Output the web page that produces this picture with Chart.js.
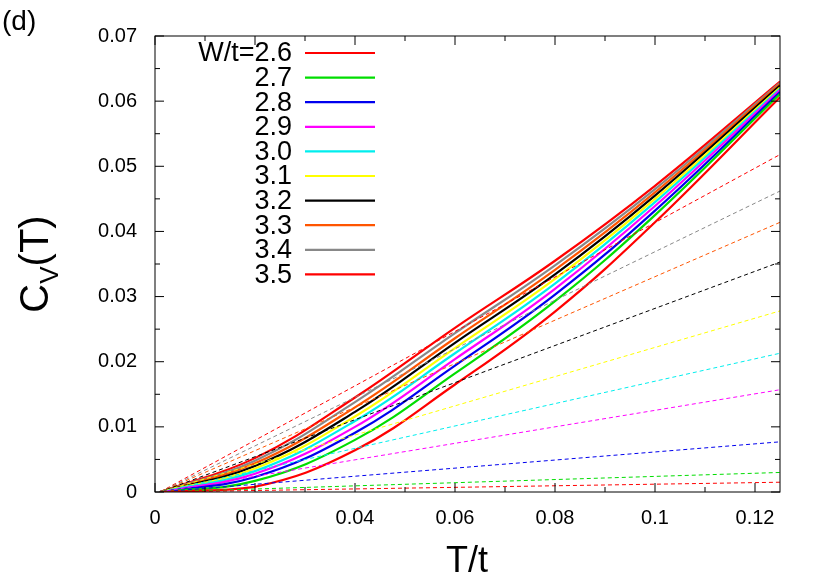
<!DOCTYPE html>
<html><head><meta charset="utf-8">
<script src="https://cdn.jsdelivr.net/npm/chart.js@4"></script>
<style>html,body{margin:0;padding:0;background:#fff}#w{width:830px;height:581px}</style>
</head><body><div id="w"><canvas id="c"></canvas></div>
<script>
const xs = [0.001, 0.02, 0.04, 0.06, 0.08, 0.10, 0.125];
const labels = ["W/t=2.6","2.7","2.8","2.9","3.0","3.1","3.2","3.3","3.4","3.5"];
const colors = ["#ff0000","#00dd00","#0000ee","#ff00ff","#00eeee","#ffff00","#000000","#ff5500","#888888","#ff0000"];
const curveW26 = [0, 0.0008, 0.0064, 0.0165, 0.0277, 0.0414, 0.0606];
const curveW27 = [0, 0.0017, 0.0080, 0.0182, 0.0293, 0.0425, 0.0611];
const curveW28 = [0, 0.0023, 0.0091, 0.0194, 0.0303, 0.0432, 0.0614];
const curveW29 = [0, 0.0028, 0.0100, 0.0204, 0.0312, 0.0439, 0.0617];
const curveW30 = [0, 0.0032, 0.0109, 0.0213, 0.0320, 0.0445, 0.0619];
const curveW31 = [0, 0.0036, 0.0116, 0.0221, 0.0327, 0.0450, 0.0621];
const curveW32 = [0, 0.0040, 0.0123, 0.0229, 0.0334, 0.0455, 0.0624];
const curveW33 = [0, 0.0044, 0.0130, 0.0236, 0.0341, 0.0460, 0.0626];
const curveW34 = [0, 0.0048, 0.0138, 0.0244, 0.0348, 0.0465, 0.0628];
const curveW35 = [0, 0.0052, 0.0145, 0.0252, 0.0355, 0.0470, 0.0630];
const curves = [curveW26,curveW27,curveW28,curveW29,curveW30,curveW31,curveW32,curveW33,curveW34,curveW35];
const linearX = [0.001, 0.125];
const linearEnd = [0.0015, 0.0030, 0.0077, 0.0157, 0.0213, 0.0278, 0.0353, 0.0414, 0.0462, 0.0518];

const datasets = [];
linearEnd.forEach((v,i)=>datasets.push({data:[{x:linearX[0],y:0},{x:linearX[1],y:v}],borderColor:colors[i],borderWidth:1,borderDash:[4,3],pointRadius:0,fill:false}));
curves.forEach((c,i)=>datasets.push({label:labels[i],data:c.map((y,k)=>({x:xs[k],y})),borderColor:colors[i],borderWidth:2.2,pointRadius:0,tension:0.4,fill:false}));

const deco = {id:'deco',afterDraw(ch){
  const c=ch.ctx,a=ch.chartArea,X=ch.scales.x,Y=ch.scales.y;
  c.save();
  c.strokeStyle='#000';c.lineWidth=1;c.strokeRect(a.left,a.top,a.right-a.left,a.bottom-a.top);
  for(let v=0;v<=0.1201;v+=0.01){const p=X.getPixelForValue(v);const L=(Math.round(v*100)%2==0)?9:5;
    c.beginPath();c.moveTo(p,a.bottom);c.lineTo(p,a.bottom-L);c.moveTo(p,a.top);c.lineTo(p,a.top+L);c.stroke();}
  for(let v=0;v<=0.0701;v+=0.005){const p=Y.getPixelForValue(v);const L=(Math.round(v*1000)%10==0)?9:5;
    c.beginPath();c.moveTo(a.left,p);c.lineTo(a.left+L,p);c.moveTo(a.right,p);c.lineTo(a.right-L,p);c.stroke();}
  c.fillStyle='#000';c.font='27px "Liberation Sans", Arial';c.textBaseline='middle';
  labels.forEach((t,i)=>{const y=53+i*24.6;c.textAlign='right';c.fillText(t,292,y+1);
    c.strokeStyle=colors[i];c.lineWidth=2.2;c.beginPath();c.moveTo(305,y);c.lineTo(375,y);c.stroke();});
  c.textAlign='left';c.textBaseline='alphabetic';c.font='28px "Liberation Sans", Arial';c.fillText('(d)',2,30);
  c.font='36px "Liberation Sans", Arial';c.textAlign='center';c.fillText('T/t',467,572);
  c.translate(48,264);c.rotate(-Math.PI/2);c.textAlign='left';
  c.font='40px "Liberation Sans", Arial';const w1=c.measureText('C').width;
  c.font='26px "Liberation Sans", Arial';const w2=c.measureText('V').width;
  c.font='40px "Liberation Sans", Arial';const w3=c.measureText('(T)').width;
  let x0=-(w1+w2+w3)/2;c.fillText('C',x0,0);c.font='26px "Liberation Sans", Arial';c.fillText('V',x0+w1,10);
  c.font='40px "Liberation Sans", Arial';c.fillText('(T)',x0+w1+w2,0);
  c.restore();}};

new Chart(document.getElementById('c'),{type:'line',data:{datasets},plugins:[deco],
 options:{responsive:true,maintainAspectRatio:false,animation:false,
  layout:{padding:{top:36,right:50,left:0,bottom:0}},
  plugins:{legend:{display:false},tooltip:{enabled:false}},
  scales:{
   x:{type:'linear',min:0,max:0.125,grid:{display:false},border:{display:false},
      ticks:{stepSize:0.02,color:'#000',font:{size:20,family:'Liberation Sans'},maxRotation:0,padding:6,
        callback:v=>(Math.abs(v-0.125)<1e-9?'':String(+v.toFixed(2)))},
      afterBuildTicks:s=>{s.ticks=[0,0.02,0.04,0.06,0.08,0.1,0.12].map(v=>({value:v}));},
      afterFit:s=>{s.height=89;}},
   y:{min:0,max:0.07,grid:{display:false},border:{display:false},
      ticks:{stepSize:0.01,color:'#000',font:{size:20,family:'Liberation Sans'},padding:10,
        callback:v=>String(+v.toFixed(2))},
      afterFit:s=>{s.width=155;}}
  }}});
</script></body></html>
